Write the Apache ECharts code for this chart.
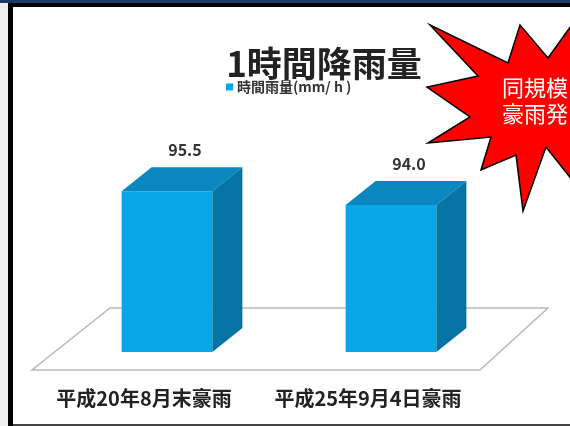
<!DOCTYPE html>
<html>
<head>
<meta charset="utf-8">
<script src="https://cdn.jsdelivr.net/npm/echarts@6/dist/echarts.min.js"></script>
<style>
  html, body { margin: 0; padding: 0; background: #fff; }
  #chart { width: 570px; height: 426px; }
</style>
</head>
<body>
<div id="chart"></div>
<script>
// 1時間降雨量 — hourly rainfall of two heavy-rain events
const categories = ['平成20年8月末豪雨', '平成25年9月4日豪雨'];
const rainfall = [95.5, 94.0];
const seriesName = '時間雨量(mm/ h )';
const calloutLines = ['同規模', '豪雨発'];

const FONT = '"Noto Sans CJK JP", "Noto Sans", sans-serif';
const Y_MIN = 78;
const Y_MAX = 100;

// pseudo-3D geometry
const DEPTH_X = 30, DEPTH_Y = -24;      // box depth
const SHIFT_X = 23;                     // bar front sits inside the floor
const FLOOR_FRONT_Y = 18;               // floor front edge below the bar base
const FLOOR_BACK_LEFT = 78, FLOOR_BACK_RIGHT = 68, FLOOR_BACK_Y = -44;

const FRONT = '#0aa7e6', TOP = '#0a87bf', SIDE = '#0675a6';

const chart = echarts.init(document.getElementById('chart'), null, { renderer: 'canvas' });

function renderFloor(params, api) {
  const cs = params.coordSys;
  const x0 = cs.x, x1 = cs.x + cs.width;
  const base = cs.y + cs.height;
  return {
    type: 'polygon',
    shape: { points: [
      [x0, base + FLOOR_FRONT_Y],
      [x1, base + FLOOR_FRONT_Y],
      [x1 + FLOOR_BACK_RIGHT, base + FLOOR_BACK_Y],
      [x0 + FLOOR_BACK_LEFT, base + FLOOR_BACK_Y]
    ] },
    style: { fill: '#fff', stroke: '#b9b9b9', lineWidth: 1.5 },
    silent: true
  };
}

function renderBar(params, api) {
  const idx = api.value(0);
  const val = api.value(1);
  const topPt = api.coord([idx, val]);
  const basePt = api.coord([idx, Y_MIN]);
  const bw = api.size([1, 0])[0] * 0.405;
  const cx = topPt[0] + SHIFT_X;
  const L = cx - bw / 2, R = cx + bw / 2;
  const top = topPt[1];
  const bottom = basePt[1];
  return {
    type: 'group',
    children: [
      { type: 'rect', shape: { x: L, y: top, width: bw, height: bottom - top },
        style: { fill: FRONT } },
      { type: 'polygon', shape: { points: [[L, top], [R, top], [R + DEPTH_X, top + DEPTH_Y], [L + DEPTH_X, top + DEPTH_Y]] },
        style: { fill: TOP } },
      { type: 'polygon', shape: { points: [[R, top], [R + DEPTH_X, top + DEPTH_Y], [R + DEPTH_X, bottom + DEPTH_Y], [R, bottom]] },
        style: { fill: SIDE } },
      { type: 'text', x: cx + 18, y: top + DEPTH_Y - 17,
        style: { text: val.toFixed(1), fill: '#333', font: 'bold 16px ' + FONT,
                 align: 'center', verticalAlign: 'middle' } }
    ]
  };
}

// starburst callout outline (partly runs past the right edge)
const starPoints = [
  [430, 25], [508, 63], [520, 25], [548, 58], [576, 19], [600, 70],
  [600, 160], [581, 191], [546, 147], [523, 211], [516, 155], [481, 170],
  [491, 137], [428, 143], [470, 117], [427, 87], [478, 76]
];

const option = {
  backgroundColor: '#fff',
  animation: false,
  title: {
    text: '1時間降雨量',
    left: 319, top: 41, textAlign: 'center',
    textStyle: { fontFamily: FONT, fontSize: 35, fontWeight: 'bold', color: '#222' }
  },
  legend: {
    data: [seriesName],
    left: 221, top: 75,
    icon: 'rect', itemWidth: 7, itemHeight: 7,
    textStyle: { fontFamily: FONT, fontSize: 14, fontWeight: 'bold', color: '#333', padding: [0, 0, 0, -1] }
  },
  grid: { left: 32, right: 90, top: 150, bottom: 74 },
  xAxis: {
    type: 'category',
    data: categories,
    axisLine: { show: false },
    axisTick: { show: false },
    axisLabel: { interval: 0, margin: 36, fontFamily: FONT, fontSize: 20, fontWeight: 'bold', color: '#222' }
  },
  yAxis: {
    type: 'value', min: Y_MIN, max: Y_MAX, show: false, splitLine: { show: false }
  },
  series: [
    { type: 'custom', name: 'floor', data: [[0]], renderItem: renderFloor, z: 1, silent: true },
    {
      type: 'custom', name: seriesName, z: 2,
      itemStyle: { color: FRONT },
      data: rainfall.map((v, i) => [i, v]),
      encode: { x: 0, y: 1 },
      renderItem: renderBar
    }
  ],
  graphic: [
    { type: 'rect', shape: { x: 0, y: 0, width: 8, height: 426 }, style: { fill: '#eeeeee' }, silent: true },
    { type: 'rect', shape: { x: 0, y: 0, width: 570, height: 3 }, style: { fill: '#1d3a68' }, silent: true },
    { type: 'rect', shape: { x: 8, y: 3, width: 562, height: 4 }, style: { fill: '#000' }, silent: true },
    { type: 'rect', shape: { x: 8, y: 3, width: 5, height: 423 }, style: { fill: '#000' }, silent: true },
    { type: 'rect', shape: { x: 13, y: 424, width: 557, height: 2 }, style: { fill: '#444' }, silent: true },
    { type: 'polygon', shape: { points: starPoints },
      style: { fill: '#ff0000', stroke: '#000', lineWidth: 1.5 }, silent: true, z: 10 },
    { type: 'text', x: 502, y: 88, z: 11, silent: true,
      style: { text: calloutLines[0], fill: '#fff', font: '22px ' + FONT, verticalAlign: 'middle' } },
    { type: 'text', x: 502, y: 114, z: 11, silent: true,
      style: { text: calloutLines[1], fill: '#fff', font: '22px ' + FONT, verticalAlign: 'middle' } }
  ]
};

chart.setOption(option);
</script>
</body>
</html>
